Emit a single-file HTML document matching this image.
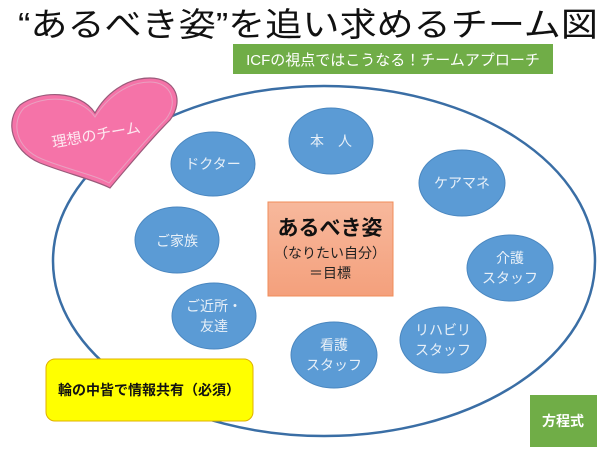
<!DOCTYPE html>
<html><head><meta charset="utf-8"><style>
html,body{margin:0;padding:0;background:#fff}
svg{display:block}
text{font-family:"Liberation Sans","Noto Sans CJK JP",sans-serif}
</style></head><body>
<svg width="600" height="450" viewBox="0 0 600 450" xmlns="http://www.w3.org/2000/svg">
<defs>
<linearGradient id="sal" x1="0" y1="0" x2="0" y2="1"><stop offset="0" stop-color="#f7b89c"/><stop offset="1" stop-color="#f4a07c"/></linearGradient>
</defs>
<text x="308" y="36" font-size="33" text-anchor="middle" fill="#111" textLength="580" lengthAdjust="spacingAndGlyphs">“あるべき姿”を追い求めるチーム図</text>
<rect x="233" y="44" width="320" height="30" fill="#70ad47"/>
<text x="393" y="65" font-size="15" fill="#fff" text-anchor="middle">ICFの視点ではこうなる！チームアプローチ</text>
<ellipse cx="324" cy="261" rx="271" ry="175" fill="none" stroke="#3a6ea5" stroke-width="2.5"/>
<path d="M95,113 C80,90 40,90 20,105 C5,120 10,150 40,163 C65,173 95,180 110,188 C125,170 150,140 170,120 C185,100 175,78 150,78 C125,78 105,95 95,113 Z" fill="#f573a8" stroke="#9a5a7a" stroke-width="1.2"/>
<path d="M95,117 C80,95 42,95 24,108 C11,122 15,148 42,159 C66,169 95,175 109,183 C123,167 147,138 166,119 C179,102 171,82 150,82 C127,82 107,98 95,117 Z" fill="none" stroke="#e9a0c0" stroke-width="1"/>
<text x="97" y="140" font-size="15" fill="#fde8f0" text-anchor="middle" transform="rotate(-10 97 140)">理想のチーム</text>
<g fill="#5b9bd5" stroke="#4a87c0" stroke-width="1">
<ellipse cx="331" cy="141" rx="42" ry="33"/>
<ellipse cx="213" cy="164" rx="42" ry="32"/>
<ellipse cx="462" cy="183" rx="43" ry="33"/>
<ellipse cx="177" cy="240" rx="42" ry="33"/>
<ellipse cx="510" cy="268" rx="43" ry="33"/>
<ellipse cx="214" cy="316" rx="42" ry="33"/>
<ellipse cx="334" cy="355" rx="43" ry="33"/>
<ellipse cx="443" cy="340" rx="43" ry="33"/>
</g>
<g fill="#e8f0f8" font-size="14" text-anchor="middle">
<text x="331" y="146">本　人</text>
<text x="213" y="169">ドクター</text>
<text x="462" y="188">ケアマネ</text>
<text x="177" y="246">ご家族</text>
<text x="510" y="263">介護</text><text x="510" y="283">スタッフ</text>
<text x="214" y="311">ご近所・</text><text x="214" y="331">友達</text>
<text x="334" y="350">看護</text><text x="334" y="370">スタッフ</text>
<text x="443" y="335">リハビリ</text><text x="443" y="355">スタッフ</text>
</g>
<rect x="268" y="202" width="125" height="94" fill="url(#sal)" stroke="#f08c5a" stroke-width="1"/>
<text x="330" y="235" font-size="21" font-weight="bold" fill="#111" text-anchor="middle">あるべき姿</text>
<text x="330" y="258" font-size="14" fill="#222" text-anchor="middle">（なりたい自分）</text>
<text x="330" y="278" font-size="14" fill="#222" text-anchor="middle">＝目標</text>
<rect x="46" y="359" width="207" height="62" rx="9" fill="#ffff00" stroke="#e0b000" stroke-width="1"/>
<text x="149" y="395" font-size="14" font-weight="bold" fill="#111" text-anchor="middle">輪の中皆で情報共有（必須）</text>
<rect x="530" y="395" width="67" height="52" fill="#70ad47"/>
<text x="563" y="426" font-size="14" font-weight="bold" fill="#fff" text-anchor="middle">方程式</text>
</svg>
</body></html>
